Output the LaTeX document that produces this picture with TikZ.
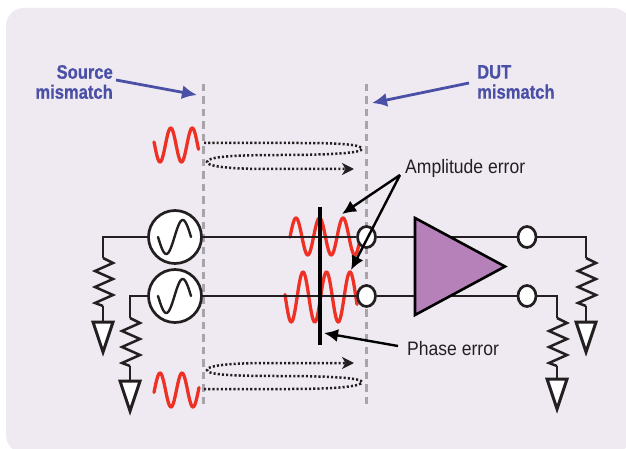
\documentclass[tikz,border=0pt]{standalone}
\usepackage{fontspec}
\setmainfont{Liberation Sans}
\newfontfamily\narrowfont[FakeStretch=0.9]{Liberation Sans}
\newfontfamily\narrowbold[FakeStretch=0.85,FakeBold=0.6]{Liberation Sans Bold}
\usetikzlibrary{arrows.meta,shapes.geometric}
\definecolor{panelbg}{HTML}{EFEAF2}
\definecolor{inkblack}{HTML}{231F20}
\definecolor{bluetxt}{HTML}{4A50A5}
\definecolor{wavered}{HTML}{EE3124}
\definecolor{dashgray}{HTML}{A7A5A9}
\definecolor{ampfill}{HTML}{B680B8}
\tikzset{
  wire/.style={draw=inkblack,line width=2.5pt},
  wave/.style={draw=wavered,line width=3.3pt,line cap=round,line join=round},
  plane/.style={draw=dashgray,line width=3pt,dash pattern=on 7.5pt off 5pt},
  srcnode/.style={circle,draw=inkblack,fill=white,line width=2.7pt,minimum size=53pt,inner sep=0pt},
  portnode/.style={ellipse,draw=inkblack,fill=white,line width=2.7pt,minimum width=18pt,minimum height=21pt,inner sep=0pt},
  loopline/.style={draw=inkblack,line width=2.5pt,dash pattern=on 2.1pt off 2.1pt,
    -{Stealth[length=12pt,width=12pt,inset=3.5pt]}},
  callout/.style={draw=black,line width=2.4pt,-{Latex[length=14pt,width=13pt]}},
  bluecall/.style={draw=bluetxt,line width=2.8pt,-{Latex[length=15pt,width=14pt]}},
  bluelab/.style={text=bluetxt,font=\narrowbold\fontsize{19.5}{20}\selectfont,inner sep=0pt},
  blacklab/.style={text=inkblack,font=\narrowfont\fontsize{19.5}{22}\selectfont,inner sep=0pt,anchor=west},
  gndtri/.style={draw=inkblack,fill=white,line width=3pt,line join=miter},
}
\newcommand{\rzig}[2]{% resistor + lead, from top (#1,#2)
  \draw[wire,line join=miter] (#1,#2) -- ++(10,5) -- ++(-18,8) -- ++(18,8) -- ++(-18,8) -- ++(18,8) -- ++(-18,8) -- ++(8,3);
}
\begin{document}
\begin{tikzpicture}[x=1pt,y=-1pt]
\useasboundingbox (0,0) rectangle (626,449);
\fill[white] (0,0) rectangle (626,449);
\begin{scope}
\clip (0,0) rectangle (626,449);
\fill[panelbg,rounded corners=18pt] (6,8) rectangle (631,453);
\end{scope}

% reference planes
\coordinate (srcTop) at (203,84);
\coordinate (srcBot) at (203,405);
\coordinate (dutTop) at (366,84);
\coordinate (dutBot) at (366,405);
\draw[plane] (srcTop) -- (srcBot);
\draw[plane] (dutTop) -- (dutBot);

% red waves
\draw[wave] plot[domain=154:198.5,samples=70] (\x,{145+17*cos(360/21.5*(\x-160))});
\draw[wave] plot[domain=154:199,samples=70] (\x,{390-17*cos(360/22*(\x-160))});
\draw[wave] plot[domain=290:360,samples=110] (\x,{236.5-18.5*cos(360/23.5*(\x-296))});
\draw[wave] plot[domain=285:357,samples=110] (\x,{297-25*cos(360/23.5*(\x-303))});

% nodes on the wires
\node[srcnode] (s1) at (175,237) {};
\node[srcnode] (s2) at (175,296) {};
\node[portnode] (p1) at (366.5,237) {};
\node[portnode] (p2) at (366.5,296) {};
\node[portnode] (q1) at (527,237) {};
\node[portnode] (q2) at (527,296) {};

% wires
\coordinate (a1) at (415,237);
\coordinate (a2) at (415,296);
\coordinate (b1) at (450,237);
\coordinate (b2) at (450,296);
\coordinate (g1) at (103,237);
\coordinate (g2) at (130,296);
\coordinate (g3) at (586,237);
\coordinate (g4) at (557,296);
\draw[wire] (s1) -- (p1);
\draw[wire] (s2) -- (p2);
\draw[wire] (p1) -- (a1);
\draw[wire] (p2) -- (a2);
\draw[wire] (b1) -- (q1);
\draw[wire] (b2) -- (q2);
\draw[wire] (s1) -- (g1) -- (103,258);
\draw[wire] (s2) -- (g2) -- (130,318);
\draw[wire] (q1) -- (g3) -- (586,258);
\draw[wire] (q2) -- (g4) -- (557,318);

% source glyphs
\draw[draw=inkblack,line width=2.4pt,line cap=round] plot[domain=158:191,samples=50] (\x,{237+17*sin(360/33*(\x-158))});
\draw[draw=inkblack,line width=2.4pt,line cap=round] plot[domain=158:191,samples=50] (\x,{296+17*sin(360/33*(\x-158))});

% resistors and grounds
\rzig{103}{258}
\draw[wire] (103,306) -- (103,322);
\draw[gndtri] (93,322) -- (113,322) -- (103,352) -- cycle;
\rzig{130}{318}
\draw[wire] (130,366) -- (130,381);
\draw[gndtri] (120,381) -- (140,381) -- (130,411) -- cycle;
\rzig{586}{258}
\draw[wire] (586,306) -- (586,322);
\draw[gndtri] (576,322) -- (596,322) -- (586,352) -- cycle;
\rzig{557}{318}
\draw[wire] (557,366) -- (557,379);
\draw[gndtri] (547,379) -- (567,379) -- (557,409) -- cycle;

% amplifier
\draw[draw=black,fill=ampfill,line width=2.6pt,line join=miter] (415,218) -- (505,266.5) -- (415,315) -- cycle;

% phase bar
\draw[draw=black,line width=3.8pt] (320,207) -- (320,345);

% dotted loops
\draw[loopline] (204,143) -- (300,143) .. controls (345,143) and (362,145) .. (362,149)
  .. controls (362,153) and (330,155) .. (280,155) .. controls (230,155) and (207,157) .. (207,162)
  .. controls (207,167) and (235,169) .. (270,169) -- (354,169);
\draw[loopline] (204,389) -- (290,389) .. controls (340,389) and (362,386) .. (362,382)
  .. controls (362,378) and (330,376) .. (280,376) .. controls (235,376) and (207,375) .. (207,370)
  .. controls (207,365) and (235,363) .. (270,363) -- (354,363);

% labels
\node[bluelab,anchor=east,align=right] (srcL) at (113,82) {Source\\mismatch};
\node[bluelab,anchor=west,align=left] (dutL) at (477,82) {DUT\\mismatch};
\node[blacklab] (ampL) at (405,168) {Amplitude error};
\node[blacklab] (phL) at (407,349) {Phase error};

% callouts
\coordinate (srcTip) at (197,95);
\coordinate (dutTip) at (372,103);
\coordinate (ampTail) at (400,175);
\coordinate (ampTipA) at (342,214);
\coordinate (ampTipB) at (351,270);
\coordinate (phTail) at (398,346);
\coordinate (phTip) at (324,333);
\draw[bluecall] (116,80) -- (srcTip);
\draw[bluecall] (469,83) -- (dutTip);
\draw[callout] (ampTail) -- (ampTipA);
\draw[callout] (ampTail) -- (ampTipB);
\draw[callout] (phTail) -- (phTip);
\end{tikzpicture}
\end{document}
